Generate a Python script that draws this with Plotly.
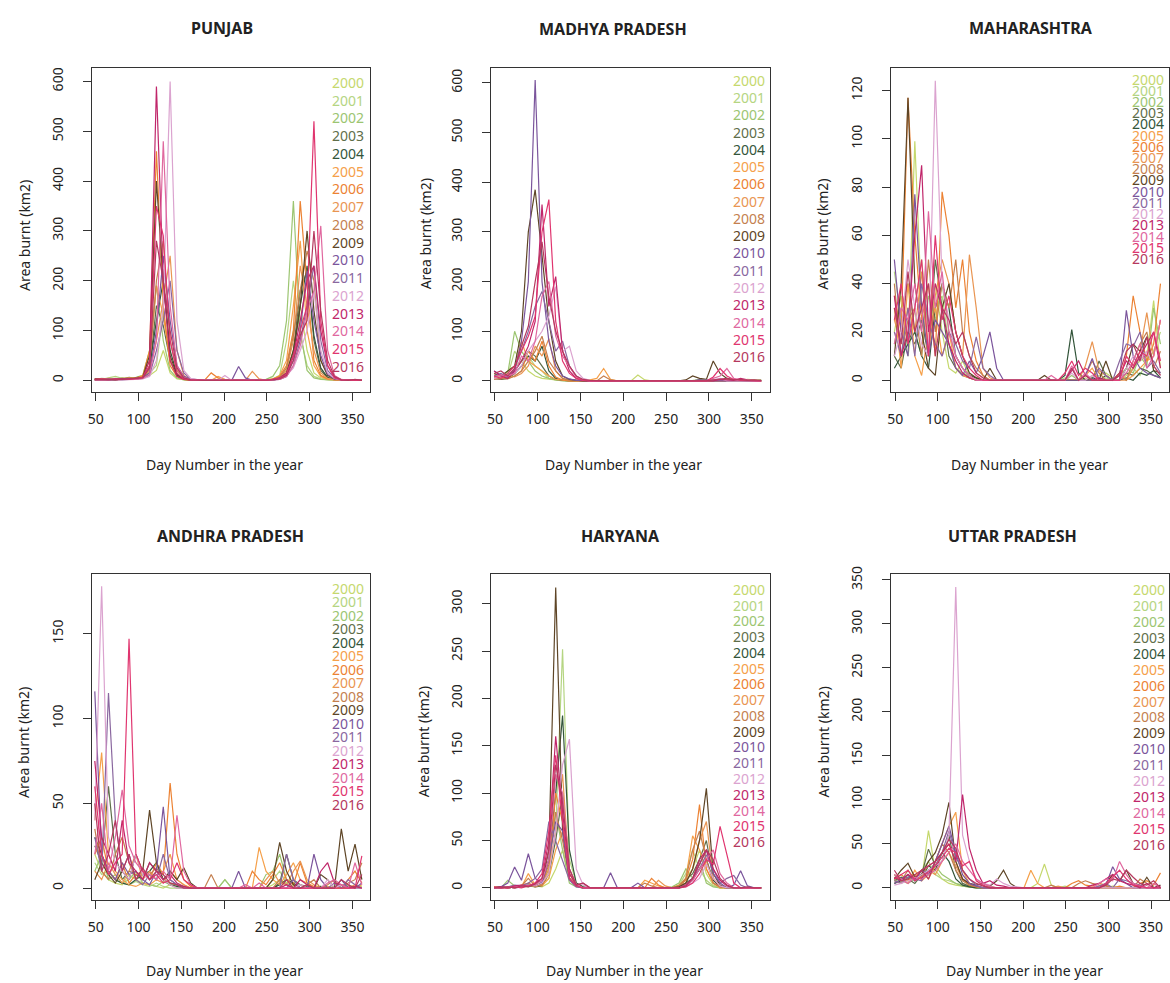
import plotly.graph_objects as go
from plotly.subplots import make_subplots

W, H = 1170, 983

# ---------------- data ----------------
DAYS = list(range(49, 362, 8))          # 8-day composites, 40 points
YEARS = [str(y) for y in range(2000, 2017)]
COLORS = ["#c5d86d", "#b5d582", "#9cc571", "#5f6e4a", "#33553a",
          "#f5a04a", "#ec8233", "#e99552", "#c47f4f", "#5e4526",
          "#7b559c", "#8a679f", "#dba3cf", "#c0266a", "#e0689f",
          "#e0356f", "#b5385e"]
STATES = ["PUNJAB", "MADHYA PRADESH", "MAHARASHTRA",
          "ANDHRA PRADESH", "HARYANA", "UTTAR PRADESH"]
X_TICKS = [50, 100, 150, 200, 250, 300, 350]

PUNJAB = [
 [2,3,2,4,3,5,3,8,10,20,60,15,3,1,0,0,0,0,1,0,0,0,0,0,0,1,2,5,20,100,150,60,15,5,2,1,0,1,0,0],
 [3,2,5,8,4,3,5,6,15,30,140,40,8,2,1,0,0,1,0,0,0,0,0,1,0,1,3,10,80,200,90,30,8,3,1,0,0,0,0,0],
 [2,4,3,2,5,4,6,10,60,190,80,20,5,1,0,0,0,0,2,1,0,0,0,0,0,2,8,30,120,360,100,20,5,2,1,0,0,0,1,0],
 [1,2,1,3,2,6,4,5,20,150,110,40,10,3,1,0,0,0,0,0,0,0,0,0,0,0,1,5,15,60,180,220,80,20,5,1,0,1,0,0],
 [1,1,2,1,3,2,5,8,25,120,200,60,12,4,1,0,0,0,0,0,0,0,0,0,0,0,1,3,10,50,150,230,90,25,6,2,0,0,0,0],
 [3,2,4,3,2,4,3,10,40,190,130,40,10,2,1,0,0,0,8,2,0,0,0,0,0,1,2,10,40,150,280,100,30,8,2,1,0,0,0,0],
 [2,3,2,2,4,3,5,8,60,460,150,30,8,2,0,0,0,15,5,0,0,0,0,0,0,0,3,8,30,100,360,190,40,10,3,1,0,0,0,0],
 [1,2,3,2,3,5,4,6,20,80,160,250,60,10,2,0,0,0,0,0,0,0,0,18,3,0,1,5,20,80,230,150,60,15,4,1,0,0,1,0],
 [2,1,2,3,2,4,3,5,30,200,280,80,20,5,1,0,0,0,0,0,0,0,0,0,0,0,2,6,25,90,180,260,200,40,10,2,1,0,0,0],
 [3,2,2,1,3,2,4,6,50,400,200,50,10,3,1,0,0,0,0,0,0,0,0,0,0,0,1,4,15,60,150,300,140,40,10,3,1,0,0,0],
 [1,2,1,2,2,3,3,5,15,100,250,120,30,8,2,0,0,0,0,0,0,28,5,0,0,0,1,3,10,40,100,220,120,50,12,3,1,0,1,0],
 [2,1,3,2,1,2,3,4,10,60,120,200,60,15,3,1,0,0,0,0,0,0,0,0,0,0,1,2,8,30,80,150,230,80,20,5,1,0,0,0],
 [1,1,2,1,2,1,2,3,8,40,150,600,120,20,4,1,0,0,0,10,0,0,0,0,0,0,1,3,10,25,60,100,180,60,15,4,1,0,0,0],
 [2,2,1,3,2,2,3,5,40,590,200,40,8,2,1,0,0,0,0,0,0,0,0,0,0,0,2,5,15,50,120,200,230,100,30,6,1,0,0,0],
 [1,1,1,2,1,2,2,4,12,80,480,150,30,6,1,0,0,0,0,0,0,0,0,0,0,0,1,2,8,30,70,140,180,310,60,10,2,0,0,0],
 [2,3,2,2,3,2,4,6,30,350,290,80,15,3,1,0,0,0,0,0,0,0,0,0,0,0,2,4,12,50,100,150,520,120,30,5,1,0,0,0],
 [1,2,2,1,2,3,3,5,25,280,200,100,25,5,1,0,0,0,0,0,0,0,0,0,0,0,1,3,10,40,90,120,300,140,40,8,1,0,2,0],
]

MADHYA_PRADESH = [
 [10,5,20,30,40,20,10,5,3,2,1,0,0,0,0,0,0,0,0,0,0,12,2,0,0,0,0,0,1,0,0,1,2,0,1,2,1,3,2,1],
 [15,8,10,60,40,50,30,20,5,2,1,0,0,0,0,0,0,0,0,0,0,0,0,0,0,1,0,0,0,1,2,0,1,2,3,1,2,2,1,2],
 [5,10,15,100,60,40,20,10,5,2,0,0,0,0,0,0,0,0,0,0,0,0,0,0,0,0,0,0,0,0,1,0,0,0,0,1,0,1,0,0],
 [8,5,10,20,40,60,50,30,10,3,1,0,0,0,0,0,0,0,0,0,0,0,0,0,0,0,0,0,1,0,2,1,0,1,0,0,1,0,0,1],
 [5,3,5,15,30,50,40,70,20,5,1,0,0,0,0,0,0,0,0,0,0,0,0,0,0,0,0,0,0,1,0,1,0,0,1,0,0,0,1,0],
 [12,6,8,25,80,40,30,20,10,3,1,0,0,0,2,5,25,3,0,0,0,0,0,0,0,0,0,0,0,0,1,0,2,0,1,0,1,0,0,0],
 [4,8,5,10,20,60,40,80,30,8,2,0,0,0,0,0,0,0,0,0,0,0,0,0,0,0,0,0,0,0,0,1,0,0,0,1,0,0,0,0],
 [6,4,12,8,15,30,70,50,85,20,5,1,0,0,0,0,0,0,0,0,0,0,0,0,0,0,0,0,0,0,0,0,1,0,0,0,0,1,0,0],
 [3,5,4,10,20,40,60,90,40,20,5,1,0,0,0,0,10,2,0,0,0,0,0,0,0,0,0,0,0,0,0,0,0,1,0,0,0,0,0,0],
 [15,10,20,30,100,300,385,250,120,40,10,3,1,0,0,0,0,0,0,0,0,0,0,0,0,0,0,0,2,10,5,3,40,15,5,2,1,1,0,0],
 [20,12,8,20,80,200,606,200,80,30,10,4,1,0,0,0,0,0,0,0,0,0,0,0,0,0,0,0,0,0,2,0,1,0,0,1,0,0,0,0],
 [10,15,8,25,60,100,150,180,120,60,80,30,10,2,0,0,0,0,0,0,0,0,0,0,0,0,0,0,0,0,0,2,0,0,0,0,0,1,0,0],
 [5,8,12,15,30,60,80,100,130,190,60,70,20,5,1,0,0,0,0,0,0,0,0,0,0,0,0,0,0,0,0,0,2,5,0,0,0,0,0,0],
 [20,10,5,20,40,70,120,355,150,210,60,20,5,1,0,0,0,0,0,0,0,0,0,0,0,0,0,0,0,0,0,0,0,3,2,1,5,2,1,0],
 [8,12,10,15,50,40,80,170,200,90,50,30,8,2,0,0,0,0,0,0,0,0,0,0,0,0,0,0,0,0,0,0,5,10,25,5,2,1,0,0],
 [10,5,15,30,60,90,130,300,365,120,40,15,5,1,0,0,0,0,0,0,0,0,0,0,0,0,0,0,0,0,0,0,8,25,10,3,1,0,0,0],
 [15,20,10,25,70,110,200,280,170,100,60,30,10,3,1,0,0,0,0,0,0,0,0,0,0,0,0,0,0,0,1,0,2,3,5,2,3,1,2,1],
]

MAHARASHTRA = [
 [20,35,15,99,30,10,40,20,5,3,8,2,1,0,0,0,0,0,0,0,0,0,0,0,0,0,0,0,1,0,2,3,1,0,2,5,8,10,33,5],
 [45,25,10,30,50,20,30,35,15,5,3,2,0,0,0,0,0,0,0,0,0,0,0,0,0,1,0,0,0,2,0,1,0,3,0,5,2,8,12,20],
 [15,30,40,20,10,35,25,40,20,10,5,1,0,0,0,0,0,0,0,0,0,0,0,0,0,0,2,0,0,1,0,0,0,2,5,3,10,6,30,15],
 [10,5,20,15,25,10,50,30,10,5,2,1,0,0,0,0,0,0,0,0,0,0,0,0,0,0,0,0,0,0,8,2,0,0,3,2,5,4,2,1],
 [5,10,15,20,10,5,30,40,30,10,5,2,1,0,0,0,0,0,0,0,0,0,0,0,0,2,21,3,0,1,0,2,0,0,1,0,3,2,4,1],
 [30,5,40,10,2,20,30,10,20,5,2,1,0,0,0,0,0,0,0,0,0,0,0,0,0,0,0,0,2,5,0,0,0,3,0,2,5,8,10,25],
 [35,20,117,60,25,40,10,78,60,30,50,20,8,2,0,0,0,0,0,0,0,0,0,0,0,0,0,0,0,0,0,0,0,0,10,35,20,8,15,40],
 [25,15,30,20,45,10,35,50,40,20,10,52,30,5,1,0,0,0,0,0,0,0,0,0,0,0,0,0,6,16,4,2,0,0,0,5,12,28,10,25],
 [40,10,25,30,10,50,20,40,30,50,20,10,5,2,0,0,0,0,0,0,0,0,0,0,0,0,0,0,2,8,3,0,0,2,0,8,15,20,5,12],
 [10,40,117,40,20,5,2,30,40,20,10,3,1,0,5,0,0,0,0,0,0,0,2,0,0,0,0,0,0,0,0,8,0,0,5,15,12,18,4,3],
 [50,20,10,77,30,10,25,20,15,5,2,8,3,10,20,5,0,0,0,0,0,0,0,0,0,0,0,0,2,9,0,0,0,0,29,10,5,3,2,1],
 [20,10,30,10,40,25,15,10,20,15,8,5,18,5,2,0,0,0,0,0,0,0,0,0,0,0,5,0,0,0,5,2,0,8,15,14,20,5,8,3],
 [10,20,50,30,15,10,124,40,25,10,5,2,0,0,0,0,0,0,0,0,0,0,0,0,0,0,3,0,0,2,0,0,0,0,5,10,8,12,6,2],
 [35,10,20,60,89,20,40,30,15,8,3,1,0,0,0,0,0,0,0,0,0,0,0,0,0,0,4,8,2,0,1,0,0,2,8,5,10,15,20,5],
 [15,30,25,40,20,70,30,45,20,10,5,2,0,0,0,0,0,0,0,0,0,0,0,2,0,0,6,0,3,0,0,0,0,0,3,8,15,5,10,25],
 [25,40,15,30,50,10,60,25,35,20,10,5,2,0,0,0,0,0,0,0,0,0,0,0,0,3,8,2,5,3,0,0,0,0,10,6,12,10,20,8],
 [30,15,45,20,30,40,10,30,25,15,20,10,3,1,0,0,0,0,0,0,0,0,0,0,0,0,5,0,2,0,0,0,0,3,12,15,8,18,6,2],
]

ANDHRA_PRADESH = [
 [20,10,5,3,2,8,5,3,2,1,0,2,1,0,0,0,0,0,0,0,0,0,0,0,0,0,2,5,3,1,2,0,0,1,0,0,2,1,0,1],
 [15,8,10,5,3,2,4,2,1,3,1,0,0,0,0,0,0,0,0,5,0,0,0,0,0,0,5,10,3,1,0,2,0,0,0,1,0,0,1,0],
 [10,20,5,8,3,5,10,3,2,1,4,2,0,0,0,0,0,0,0,5,0,0,0,0,0,8,10,20,5,2,0,1,0,0,1,0,0,2,0,0],
 [25,15,60,20,5,10,8,5,15,10,5,3,2,1,0,0,0,0,0,0,0,0,0,0,0,0,0,3,20,5,2,1,0,0,0,0,0,1,0,0],
 [30,20,10,5,3,2,5,8,10,15,5,2,1,0,0,0,0,0,0,0,0,0,0,0,0,0,0,2,5,3,0,0,0,1,0,0,0,0,0,0],
 [40,80,20,10,5,2,1,3,2,5,10,20,5,2,0,0,0,0,0,0,0,0,0,0,24,10,5,2,8,15,5,3,0,0,1,0,2,0,0,2],
 [20,30,10,5,15,3,8,10,5,15,8,62,20,5,1,0,0,0,0,0,0,0,0,10,5,2,8,15,5,2,15,3,1,0,0,0,0,5,10,3],
 [10,5,15,8,3,10,20,5,10,5,3,10,5,2,0,0,0,0,0,0,0,0,0,0,0,5,10,3,2,10,16,5,2,0,0,0,0,0,2,0],
 [35,10,5,20,30,15,5,10,8,12,5,3,2,0,0,0,0,8,0,0,0,0,0,0,0,0,0,5,2,0,0,2,5,0,2,5,0,3,5,15],
 [5,15,8,3,10,5,20,10,46,15,5,10,5,12,3,0,0,0,0,0,0,0,0,0,0,0,5,27,10,2,0,0,0,8,5,0,35,10,26,5],
 [116,20,10,5,15,8,10,5,2,10,48,5,2,0,0,0,0,0,0,0,0,10,0,0,0,0,0,0,0,5,0,0,20,5,0,0,5,0,0,3],
 [30,10,115,40,10,20,5,2,8,5,20,5,2,0,0,0,0,0,0,0,0,0,0,0,0,0,0,0,20,5,0,0,0,0,0,3,0,5,2,0],
 [40,178,30,15,10,5,20,8,5,10,5,2,0,0,0,0,0,0,0,0,0,0,0,0,0,0,0,0,0,0,2,0,0,0,5,0,2,0,0,0],
 [75,30,20,10,40,15,10,5,15,10,5,8,3,1,0,0,0,0,0,0,0,0,0,0,0,0,0,0,2,0,5,2,0,10,15,3,2,0,1,0],
 [20,50,10,30,58,25,15,10,8,5,10,5,43,10,2,0,0,0,0,0,0,0,2,0,3,0,0,0,0,0,0,0,0,0,3,5,2,0,15,2],
 [60,20,8,15,20,147,20,10,5,8,3,5,15,5,2,0,0,0,0,0,0,0,0,0,0,0,0,0,0,0,0,0,0,0,0,0,0,0,0,19],
 [50,10,20,40,10,20,5,12,5,10,8,3,2,0,0,0,0,0,0,0,0,0,0,0,0,0,0,0,5,0,0,2,0,0,0,0,5,2,0,8],
]

HARYANA = [
 [1,0,1,2,1,3,2,1,5,20,40,10,2,0,0,0,0,0,0,0,0,0,0,0,0,0,0,2,10,20,40,15,3,0,0,0,0,0,0,0],
 [0,1,0,1,2,1,3,5,10,60,252,30,5,1,0,0,0,0,0,0,0,0,0,0,0,0,0,3,15,40,20,8,2,0,0,0,0,0,0,0],
 [1,0,8,2,1,2,1,3,20,80,40,5,1,0,0,0,0,0,0,0,0,0,0,0,0,0,1,5,20,10,30,5,1,0,0,0,0,0,0,0],
 [0,1,0,1,2,3,1,2,15,50,100,20,3,0,0,0,0,0,0,0,0,0,0,0,0,0,0,2,8,15,30,50,10,2,0,0,0,0,0,0],
 [0,0,1,0,1,2,2,5,30,100,182,40,5,1,0,0,0,0,0,0,0,0,0,0,0,0,0,1,5,10,20,30,8,1,0,0,0,0,0,0],
 [1,0,0,2,1,15,3,2,10,40,60,15,2,0,0,0,0,0,0,0,0,0,8,5,2,0,0,3,10,55,40,20,5,0,0,0,0,0,0,0],
 [0,1,0,1,3,5,2,3,15,100,70,10,2,0,0,0,0,0,0,0,0,0,0,10,3,0,0,2,8,30,88,20,5,1,0,0,0,0,0,0],
 [0,0,1,0,2,3,1,4,20,60,120,15,3,0,0,0,0,0,0,0,0,0,0,0,8,2,0,1,5,20,50,70,10,2,0,0,0,0,0,0],
 [1,0,0,1,2,10,2,3,25,80,50,10,2,0,0,0,0,0,0,0,0,0,5,2,0,0,0,2,10,40,60,30,5,1,0,0,0,0,0,0],
 [0,1,0,1,2,3,2,5,40,317,60,10,2,0,0,0,0,0,0,0,0,0,0,0,0,0,0,1,5,20,50,105,15,3,0,0,0,0,0,0],
 [0,1,5,22,8,36,10,5,30,70,60,10,2,0,0,0,0,16,0,0,0,5,0,0,0,0,0,0,3,10,25,40,15,5,0,3,18,2,0,0],
 [0,0,1,3,2,5,10,20,70,50,30,8,1,0,0,0,0,0,0,0,0,0,0,0,0,0,0,0,2,8,20,35,20,5,10,13,3,0,0,0],
 [0,0,0,1,2,3,2,5,15,60,130,157,20,3,0,0,0,0,0,0,0,0,0,0,0,0,0,0,1,5,10,25,10,2,0,0,0,0,0,0],
 [0,1,0,2,3,2,5,10,50,160,80,15,3,5,0,0,0,0,0,0,0,0,0,0,0,0,0,0,3,10,30,40,20,8,2,0,0,0,0,0],
 [0,0,1,0,1,2,3,8,30,120,100,20,4,0,0,0,0,0,0,0,0,0,0,0,0,0,0,0,2,8,20,30,40,15,5,0,0,0,0,0],
 [1,0,0,1,0,2,5,15,60,140,70,10,2,0,0,0,0,0,0,0,0,0,0,0,0,0,0,0,1,5,15,30,25,65,35,5,0,0,0,0],
 [0,0,1,0,2,1,4,10,40,130,90,20,3,5,0,0,0,0,0,0,0,0,0,0,0,0,0,0,2,10,25,40,30,10,3,0,0,1,0,0],
]

UTTAR_PRADESH = [
 [5,10,8,15,10,65,20,10,5,3,2,1,0,0,2,0,0,0,0,0,0,5,27,3,0,0,0,0,0,0,0,0,2,0,0,0,2,0,0,0],
 [10,5,15,8,20,30,15,10,8,5,3,2,1,0,0,0,0,0,0,0,0,0,0,0,0,2,0,0,0,0,0,0,0,0,0,0,0,0,0,0],
 [15,8,5,10,12,20,25,15,10,5,2,1,0,0,0,0,0,0,0,0,0,0,0,0,0,0,0,0,0,0,0,0,0,0,0,0,0,0,0,0],
 [8,12,10,5,15,44,25,30,60,20,5,2,1,0,0,0,0,0,0,0,0,0,0,0,0,0,0,0,0,0,0,0,0,0,0,0,0,0,0,0],
 [5,8,12,15,10,25,20,40,30,10,3,1,0,0,0,0,0,0,0,0,0,0,0,0,0,0,0,0,0,0,0,0,0,0,0,0,0,0,0,0],
 [12,10,5,20,8,15,30,50,70,86,20,5,2,0,0,0,0,0,0,0,20,5,0,0,0,0,0,0,0,0,0,0,0,0,0,0,0,0,0,0],
 [10,15,8,12,20,10,25,40,50,30,10,3,1,0,0,0,0,0,0,0,0,0,0,0,0,0,5,8,3,2,5,3,0,2,0,0,5,8,3,17],
 [8,5,10,15,12,20,15,30,40,25,10,5,2,0,0,0,0,0,0,0,0,0,0,0,2,0,0,0,0,0,0,0,0,0,0,0,0,0,0,0],
 [15,8,20,10,15,25,30,50,40,20,8,3,2,0,0,0,0,0,0,0,0,0,0,3,0,0,0,5,8,5,3,2,0,0,0,0,10,5,0,0],
 [10,20,28,12,15,30,40,60,97,30,10,5,3,5,2,8,20,5,0,0,0,0,0,0,0,0,0,0,0,0,0,5,15,8,20,5,0,12,0,3],
 [5,10,15,8,20,15,30,50,70,40,15,5,2,0,0,0,0,0,0,0,0,0,0,0,0,0,0,0,0,0,0,3,24,10,5,0,0,0,0,0],
 [8,5,12,10,8,20,25,40,65,35,20,10,3,0,0,0,0,0,0,0,0,0,0,0,0,0,0,0,0,0,2,5,0,10,8,5,3,0,0,0],
 [3,5,8,10,15,20,25,30,60,342,60,30,10,5,3,10,5,2,1,0,0,0,0,0,0,0,0,0,0,0,0,0,0,0,0,0,0,0,0,0],
 [12,8,15,10,20,25,30,40,50,30,106,45,20,5,8,3,2,0,0,0,0,0,0,0,0,0,0,0,0,3,5,10,15,8,5,3,0,5,0,2],
 [15,10,5,12,10,15,20,30,40,50,30,20,10,5,2,0,0,0,0,0,0,0,0,0,0,0,0,0,0,0,5,10,8,30,15,5,2,0,5,0],
 [10,15,20,8,12,18,25,35,45,40,25,30,8,3,0,0,0,0,0,0,0,0,0,0,0,0,0,0,0,0,0,5,12,20,10,3,2,0,0,0],
 [20,8,10,15,20,10,30,40,55,45,20,10,5,2,0,0,0,0,0,0,0,0,0,0,0,0,0,0,0,0,0,3,10,8,20,12,5,3,8,0],
]

STATE_DATA = [PUNJAB, MADHYA_PRADESH, MAHARASHTRA, ANDHRA_PRADESH, HARYANA, UTTAR_PRADESH]
Y_TICKS = [
    [0, 100, 200, 300, 400, 500, 600],
    [0, 100, 200, 300, 400, 500, 600],
    [0, 20, 40, 60, 80, 100, 120],
    [0, 50, 100, 150],
    [0, 50, 100, 150, 200, 250, 300],
    [0, 50, 100, 150, 200, 250, 300, 350],
]

# ---------------- layout (pixels) ----------------
BOX_X = [(88, 368), (489, 769), (891, 1171)]
BOX_Y = [(60.5, 387.5), (571, 899)]
Y_RANGES = [(-24, 627), (-23, 630), (-5, 129.3), (-6.8, 185), (-12.5, 331), (-13.5, 356.4)]
X_RANGE = (45.3, 371)
TITLE_POS = [(219, 20), (612, 21), (1031, 20), (227, 532), (619, 532), (1013, 532)]
XLAB_POS = [(221, 460), (622, 460), (1030, 460), (221, 970), (623, 970), (1025, 970)]
YLAB_POS = [(20, 229), (423, 228), (822, 228), (20, 740), (422, 740), (823, 740)]
LEG_TOP = [75, 73, 71.7, 585, 586, 586]
LEG_STEP = [17.9, 17.4, 11.3, 13.6, 15.9, 16.1]
LEG_RIGHT = [364, 766, 1167, 364, 766, 1168]

FONT = "Noto Sans"
TXT = "#222222"

fig = make_subplots(rows=2, cols=3)
ann = []
for k, data in enumerate(STATE_DATA):
    r, c = k // 3, k % 3
    for yi, series in enumerate(data):
        fig.add_trace(go.Scatter(x=DAYS, y=series, mode="lines",
                                 line=dict(color=COLORS[yi], width=1.2),
                                 showlegend=False, hoverinfo="skip"),
                      row=r + 1, col=c + 1)
    x0, x1 = BOX_X[c]
    y0, y1 = BOX_Y[r]
    xd = [x0 / W, min(x1 / W, 1.0)]
    yd = [1 - y1 / H, 1 - y0 / H]
    common = dict(showline=True, mirror=True, linecolor="#333333", linewidth=1.2,
                  ticks="outside", ticklen=8, tickwidth=1.2, tickcolor="#333333",
                  showgrid=False, zeroline=False,
                  tickfont=dict(family=FONT, size=14, color=TXT))
    fig.update_xaxes(domain=xd, range=list(X_RANGE), tickvals=X_TICKS,
                     ticklabelstandoff=6, row=r + 1, col=c + 1, **common)
    fig.update_yaxes(domain=yd, range=list(Y_RANGES[k]), tickvals=Y_TICKS[k],
                     tickangle=-90, ticklabelstandoff=14, row=r + 1, col=c + 1, **common)

    tx, ty = TITLE_POS[k]
    ann.append(dict(text="<b>" + STATES[k] + "</b>", x=tx / W, y=1 - ty / H,
                    xref="paper", yref="paper", showarrow=False,
                    xanchor="center", yanchor="middle",
                    font=dict(family=FONT, size=16, color=TXT)))
    lx, ly = XLAB_POS[k]
    ann.append(dict(text="Day Number in the year", x=lx / W, y=1 - ly / H,
                    xref="paper", yref="paper", showarrow=False,
                    xanchor="center", yanchor="middle",
                    font=dict(family=FONT, size=14, color=TXT)))
    vx, vy = YLAB_POS[k]
    ann.append(dict(text="Area burnt (km2)", x=vx / W, y=1 - vy / H, textangle=-90,
                    xref="paper", yref="paper", showarrow=False,
                    xanchor="center", yanchor="middle",
                    font=dict(family=FONT, size=14, color=TXT)))
    for yi, yr in enumerate(YEARS):
        py = LEG_TOP[k] + yi * LEG_STEP[k]
        ann.append(dict(text=yr, x=LEG_RIGHT[k] / W, y=1 - py / H,
                        xref="paper", yref="paper", showarrow=False,
                        xanchor="right", yanchor="middle",
                        font=dict(family=FONT, size=14, color=COLORS[yi])))

fig.update_layout(width=W, height=H, margin=dict(l=0, r=0, t=0, b=0),
                  paper_bgcolor="white", plot_bgcolor="white",
                  annotations=ann, font=dict(family=FONT, color=TXT))

PIN_TOP_LEFT = (
    "document.documentElement.style.margin='0';"
    "document.documentElement.style.overflow='hidden';"
    "document.body.style.margin='0';document.body.style.overflow='hidden';"
    "var d=document.querySelector('.plotly-graph-div');"
    "d.style.position='fixed';d.style.left='0px';d.style.top='0px';"
)
fig.write_html("out.html", config={"displayModeBar": False}, post_script=PIN_TOP_LEFT)
